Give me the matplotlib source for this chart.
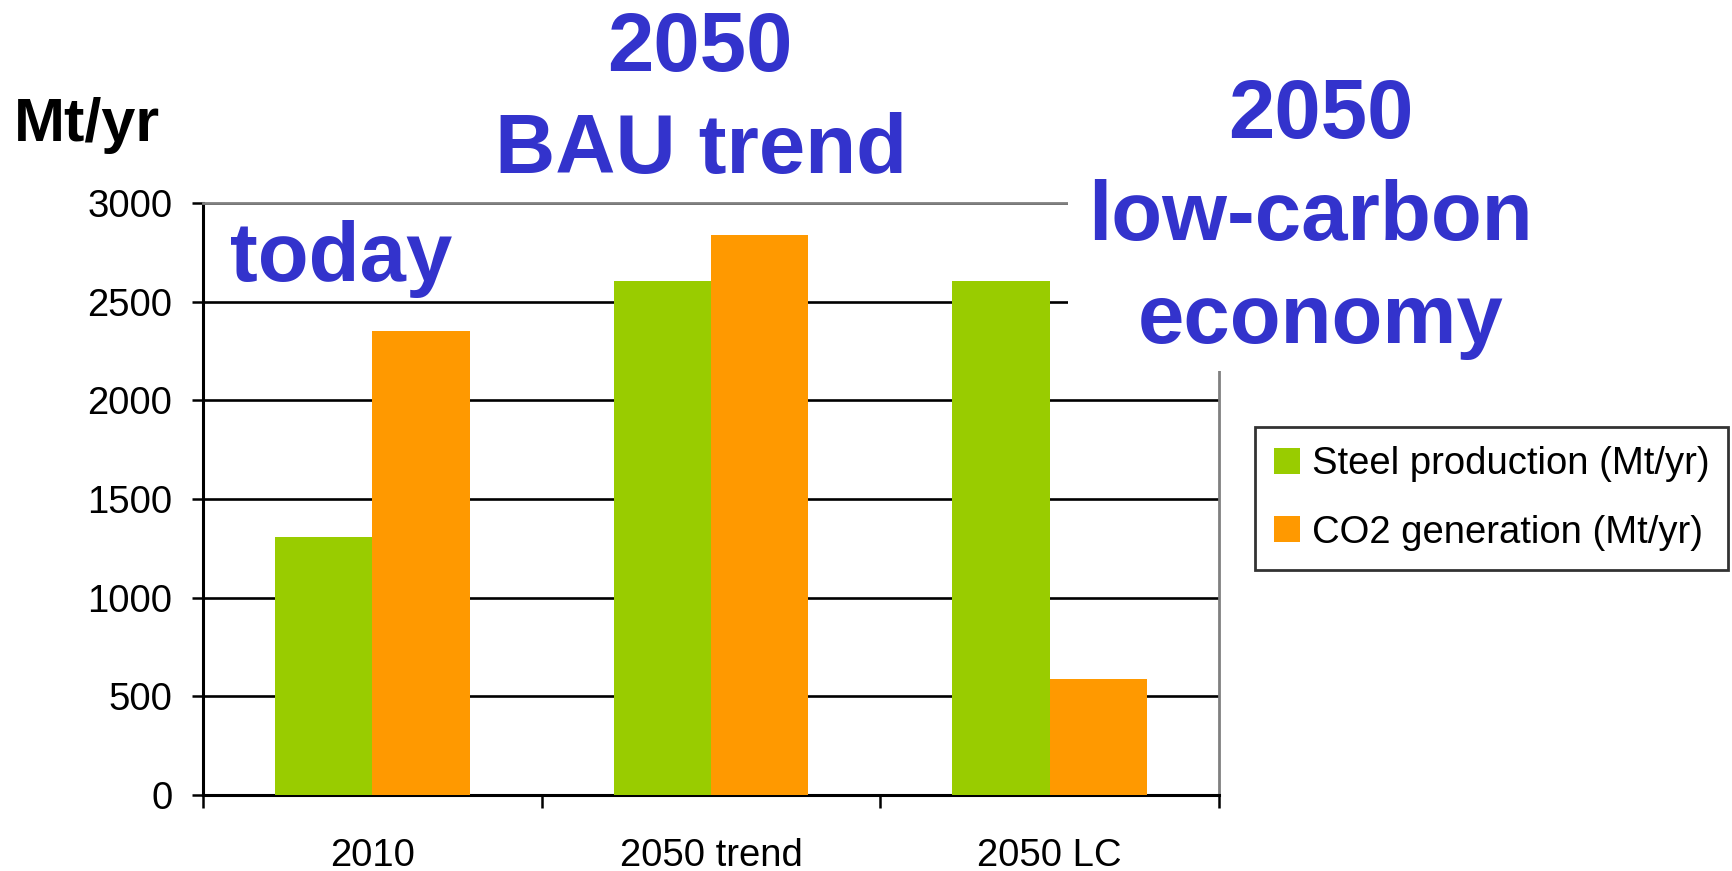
import matplotlib
matplotlib.use("Agg")
import matplotlib.pyplot as plt
from matplotlib.patches import Rectangle, Patch
import numpy as np

categories = ["2010", "2050 trend", "2050 LC"]
steel = [1306, 2607, 2607]
co2 = [2350, 2840, 590]
series_names = ["Steel production (Mt/yr)", "CO2 generation (Mt/yr)"]
yticks = [0, 500, 1000, 1500, 2000, 2500, 3000]

GREEN = "#99CC00"
ORANGE = "#FF9900"
BLUE = "#3333CC"
GREY = "#808080"

plt.rcParams["font.family"] = ["Liberation Sans", "DejaVu Sans"]

W, H = 1733, 871
fig = plt.figure(figsize=(W / 100, H / 100), dpi=100)
fig.patch.set_facecolor("white")

x0, x1, y0, y1 = 203.0, 1219.0, 795.0, 203.0
ax = fig.add_axes([x0 / W, 1 - y0 / H, (x1 - x0) / W, (y0 - y1) / H])

x = np.arange(len(categories))
bw = 0.2876
ax.bar(x - bw / 2, steel, width=bw, color=GREEN, zorder=3, label=series_names[0])
ax.bar(x + bw / 2, co2, width=bw, color=ORANGE, zorder=3, label=series_names[1])

ax.set_xlim(-0.5, len(categories) - 0.5)
ax.set_ylim(0, 3000)
ax.set_yticks(yticks)
ax.set_yticklabels([str(v) for v in yticks])
ax.yaxis.grid(True, color="black", linewidth=1.9, zorder=1)
ax.set_axisbelow(True)

ax.set_xticks(x)
ax.set_xticklabels(categories)
ax.set_xticks(np.arange(len(categories) + 1) - 0.5, minor=True)
ax.tick_params(axis="x", which="major", length=0, pad=31, labelsize=27.5)
ax.tick_params(axis="x", which="minor", length=9, width=1.8, direction="out")
ax.tick_params(axis="y", length=8, width=1.8, direction="out", pad=14, labelsize=27.5)

for s in ["left", "bottom"]:
    ax.spines[s].set_color("black")
    ax.spines[s].set_linewidth(2.2)
for s in ["top", "right"]:
    ax.spines[s].set_color(GREY)
    ax.spines[s].set_linewidth(2.0)

# white text box covering the upper right of the plot area
fig.patches.append(Rectangle((1068 / W, 1 - 371 / H), (1230 - 1068) / W, 371 / H,
                             transform=fig.transFigure, facecolor="white",
                             edgecolor="none", zorder=2))

def ftext(px, py, s, **kw):
    fig.text(px / W, 1 - py / H, s, va="baseline", zorder=4, **kw)

ftext(14, 141, "Mt/yr", ha="left", fontsize=44, fontweight="bold", color="black")
ftext(700, 71, "2050", ha="center", fontsize=60, fontweight="bold", color=BLUE)
ftext(701, 173, "BAU trend", ha="center", fontsize=60, fontweight="bold", color=BLUE)
ftext(230, 281, "today", ha="left", fontsize=60, fontweight="bold", color=BLUE)
ftext(1321, 138, "2050", ha="center", fontsize=60, fontweight="bold", color=BLUE)
ftext(1310, 240, "low-carbon", ha="center", fontsize=60, fontweight="bold", color=BLUE)
ftext(1321, 343, "economy", ha="center", fontsize=60, fontweight="bold", color=BLUE)

handles = [Patch(facecolor=GREEN, edgecolor="none"), Patch(facecolor=ORANGE, edgecolor="none")]
leg = fig.legend(handles, series_names, loc="upper left",
                 bbox_to_anchor=(1255 / W, 1 - 427 / H), bbox_transform=fig.transFigure,
                 fontsize=27.5, frameon=True, fancybox=False, shadow=False,
                 borderpad=0.5, handlelength=0.68, handleheight=0.68,
                 handletextpad=0.3, labelspacing=0.85, borderaxespad=0)
leg.get_frame().set_edgecolor("black")
leg.get_frame().set_linewidth(2.0)
leg.set_zorder(5)

fig.savefig("out.png", dpi=100, facecolor="white")
